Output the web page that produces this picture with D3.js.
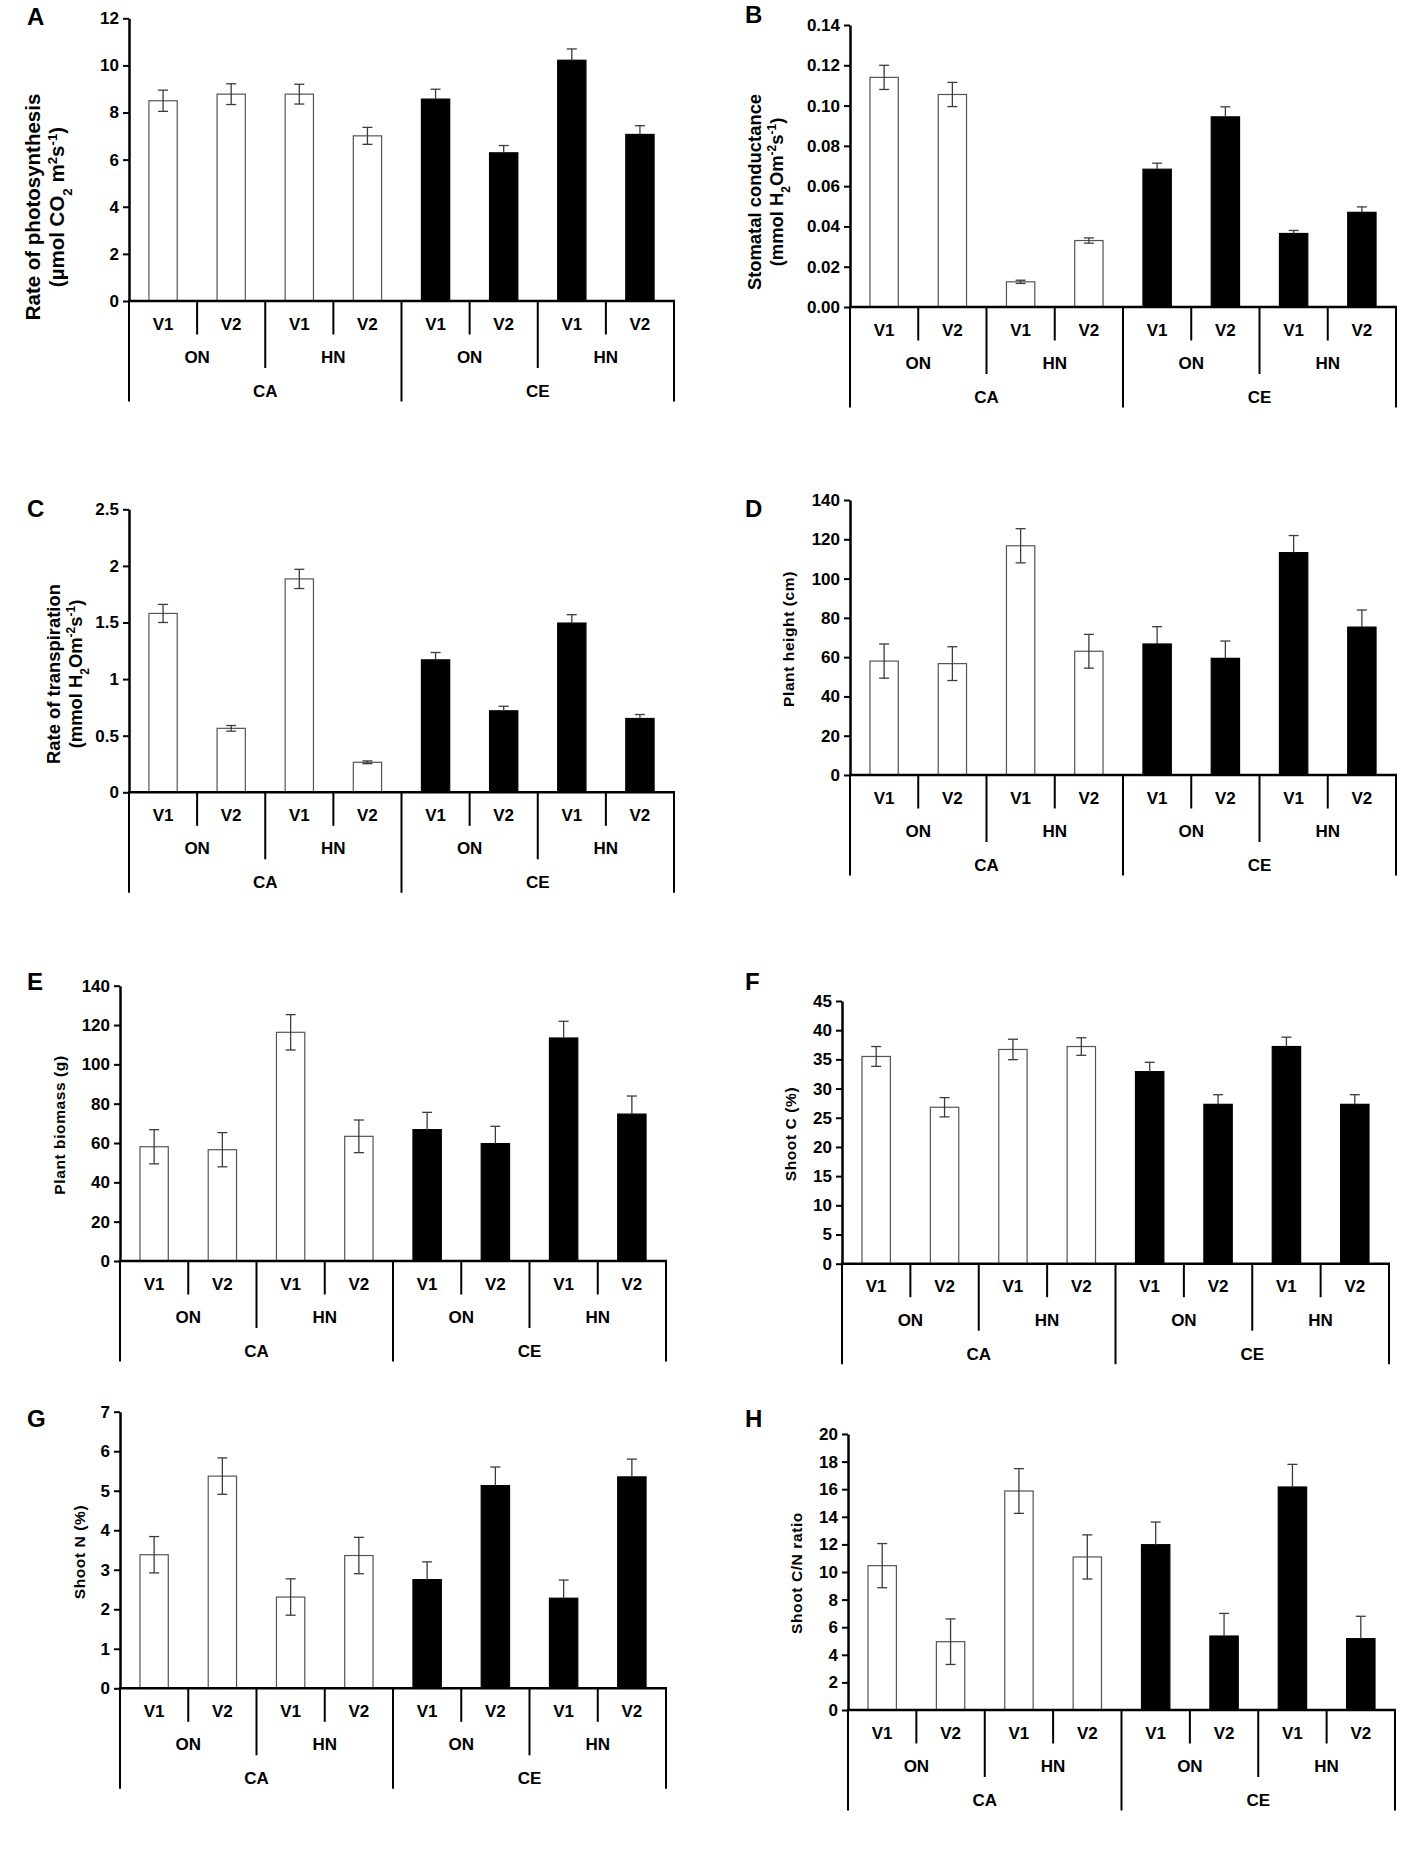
<!DOCTYPE html>
<html><head><meta charset="utf-8">
<script src="https://cdn.jsdelivr.net/npm/d3@7"></script>
<style>
body{margin:0;background:#fff}
text{font-family:"Liberation Sans",Arial,Helvetica,sans-serif;font-weight:bold;fill:#000}
</style>
</head><body><svg id="chart" width="1418" height="1850"></svg>
<script>
// ---------- categories ----------
const varieties = ["V1","V2","V1","V2","V1","V2","V1","V2"];
const nitrogenLevels = ["ON","HN","ON","HN"];
const co2Levels = ["CA","CE"];
const barCo2Index = [0,0,0,0,1,1,1,1];

// ---------- series values (mean, SE) ----------
const photosynthesis   = [8.50, 8.78, 8.78, 7.01, 8.57, 6.29, 10.22, 7.07];
const photosynthesisSE = [0.45, 0.44, 0.42, 0.36, 0.42, 0.31, 0.48, 0.37];
const conductance   = [0.114, 0.1055, 0.0125, 0.033, 0.0684, 0.0944, 0.0365, 0.047];
const conductanceSE = [0.006, 0.006, 0.0008, 0.0013, 0.003, 0.005, 0.0015, 0.0027];
const transpiration   = [1.58, 0.565, 1.885, 0.265, 1.17, 0.72, 1.495, 0.652];
const transpirationSE = [0.08, 0.025, 0.085, 0.012, 0.065, 0.04, 0.074, 0.035];
const plantHeight   = [58.0, 56.7, 116.7, 63.0, 66.7, 59.4, 113.2, 75.3];
const plantHeightSE = [8.7, 8.6, 8.7, 8.6, 8.8, 8.8, 8.7, 8.7];
const plantBiomass   = [58.1, 56.6, 116.3, 63.4, 66.8, 59.7, 113.4, 74.7];
const plantBiomassSE = [8.7, 8.7, 9.0, 8.3, 8.8, 8.8, 8.5, 9.2];
const shootC   = [35.5, 26.8, 36.7, 37.2, 32.9, 27.3, 37.2, 27.3];
const shootCSE = [1.7, 1.65, 1.75, 1.5, 1.6, 1.65, 1.6, 1.65];
const shootN   = [3.38, 5.37, 2.31, 3.36, 2.75, 5.13, 2.28, 5.35];
const shootNSE = [0.46, 0.46, 0.46, 0.46, 0.45, 0.47, 0.46, 0.45];
const shootCN   = [10.46, 4.95, 15.87, 11.09, 11.98, 5.36, 16.16, 5.17];
const shootCNSE = [1.6, 1.65, 1.62, 1.6, 1.64, 1.64, 1.64, 1.62];

// ---------- tick labels ----------
const ticksA = [0,2,4,6,8,10,12];
const ticksB = [0,0.02,0.04,0.06,0.08,0.10,0.12,0.14];
const ticksC = [0,0.5,1,1.5,2,2.5];
const ticksD = [0,20,40,60,80,100,120,140];
const ticksE = [0,20,40,60,80,100,120,140];
const ticksF = [0,5,10,15,20,25,30,35,40,45];
const ticksG = [0,1,2,3,4,5,6,7];
const ticksH = [0,2,4,6,8,10,12,14,16,18,20];

// ---------- panel definitions (data refs + layout) ----------
const panels = [
  {letter:"A", values:photosynthesis, se:photosynthesisSE, ticks:ticksA, fmt:d3.format("d"),
   title:[[["Rate of photosynthesis"]],[["(µmol CO"],["2","sub"],[" m"],["2","sup"],["s"],["-1","sup"],[")"]]], titleSize:20.5, ls:0, titleX:[33,57], titleY:207,
   x0:129, x1:674, yTop:18.3, y0:301, lx:27, ly:25},
  {letter:"B", values:conductance, se:conductanceSE, ticks:ticksB, fmt:d3.format(".2f"),
   title:[[["Stomatal conductance"]],[["(mmol H"],["2","sub"],["Om"],["-2","sup"],["s"],["-1","sup"],[")"]]], titleSize:18.4, ls:0, titleX:[755,777], titleY:192,
   x0:850, x1:1396, yTop:25, y0:307, lx:745, ly:23},
  {letter:"C", values:transpiration, se:transpirationSE, ticks:ticksC, fmt:d3.format("~g"),
   title:[[["Rate of transpiration"]],[["(mmol H"],["2","sub"],["Om"],["-2","sup"],["s"],["-1","sup"],[")"]]], titleSize:18.4, ls:0, titleX:[54,76], titleY:674,
   x0:129, x1:674, yTop:509.3, y0:792.3, lx:27, ly:517},
  {letter:"D", values:plantHeight, se:plantHeightSE, ticks:ticksD, fmt:d3.format("d"),
   title:[[["Plant height (cm)"]]], titleSize:15.5, ls:0.6, titleX:[789], titleY:639,
   x0:850, x1:1396, yTop:500, y0:775, lx:745, ly:517},
  {letter:"E", values:plantBiomass, se:plantBiomassSE, ticks:ticksE, fmt:d3.format("d"),
   title:[[["Plant biomass (g)"]]], titleSize:15.5, ls:0.6, titleX:[60], titleY:1125,
   x0:120, x1:666, yTop:985.7, y0:1261, lx:27, ly:990},
  {letter:"F", values:shootC, se:shootCSE, ticks:ticksF, fmt:d3.format("d"),
   title:[[["Shoot C (%)"]]], titleSize:15.5, ls:0.6, titleX:[791], titleY:1134,
   x0:842, x1:1389, yTop:1001, y0:1263.7, lx:745, ly:990},
  {letter:"G", values:shootN, se:shootNSE, ticks:ticksG, fmt:d3.format("d"),
   title:[[["Shoot N (%)"]]], titleSize:15.5, ls:0.6, titleX:[80], titleY:1552,
   x0:120, x1:666, yTop:1411.7, y0:1688.3, lx:27, ly:1427},
  {letter:"H", values:shootCN, se:shootCNSE, ticks:ticksH, fmt:d3.format("d"),
   title:[[["Shoot C/N ratio"]]], titleSize:15.5, ls:0.6, titleX:[797], titleY:1573,
   x0:848, x1:1395, yTop:1434, y0:1710, lx:745, ly:1427}
];

const svg = d3.select("#chart");
svg.append("rect").attr("width",1418).attr("height",1850).attr("fill","#fff");
const ROW = 33.5;
const barColor = ["#ffffff","#000000"];

panels.forEach(p => {
  const g = svg.append("g");
  const idx = d3.range(8);
  const x = d3.scaleBand().domain(idx).range([p.x0, p.x1]).paddingInner(0.585).paddingOuter(0.2925);
  const y = d3.scaleLinear().domain([0, d3.max(p.ticks)]).range([p.y0, p.yTop]);
  const bound = d3.scaleLinear().domain([0, 8]).range([p.x0, p.x1]);

  // bars
  g.selectAll("rect.bar").data(idx).join("rect")
    .attr("x", i => x(i)).attr("width", x.bandwidth())
    .attr("y", i => y(p.values[i])).attr("height", i => y(0) - y(p.values[i]))
    .attr("fill", i => barColor[barCo2Index[i]])
    .attr("stroke", i => barCo2Index[i] ? "#000" : "#555")
    .attr("stroke-width", 1.2);

  // error bars (lower whisker hidden inside black bars)
  const eb = g.selectAll("g.eb").data(idx).join("g").attr("stroke", "#3c3c3c").attr("stroke-width", 1.3);
  const cx = i => x(i) + x.bandwidth()/2;
  eb.append("line").attr("x1", cx).attr("x2", cx)
    .attr("y1", i => y(p.values[i] + p.se[i]))
    .attr("y2", i => barCo2Index[i] ? y(p.values[i]) : y(p.values[i] - p.se[i]));
  eb.append("line").attr("x1", i => cx(i) - 5).attr("x2", i => cx(i) + 5)
    .attr("y1", i => y(p.values[i] + p.se[i])).attr("y2", i => y(p.values[i] + p.se[i]));
  eb.filter(i => !barCo2Index[i]).append("line").attr("x1", i => cx(i) - 5).attr("x2", i => cx(i) + 5)
    .attr("y1", i => y(p.values[i] - p.se[i])).attr("y2", i => y(p.values[i] - p.se[i]));

  // y axis
  const ax = g.append("g").attr("transform", `translate(${p.x0},0)`)
    .call(d3.axisLeft(y).tickValues(p.ticks).tickFormat(p.fmt).tickSize(6).tickSizeOuter(0).tickPadding(4));
  ax.select(".domain").attr("stroke", "#000").attr("stroke-width", 2.5);
  ax.selectAll(".tick line").attr("stroke", "#000").attr("stroke-width", 2);
  ax.selectAll(".tick text").attr("font-size", 17).attr("fill", "#000")
    .style("font-family", '"Liberation Sans",Arial,sans-serif').style("font-weight", "bold");

  // category axis
  g.append("line").attr("x1", p.x0 - 1).attr("x2", p.x1 + 1).attr("y1", y(0)).attr("y2", y(0))
    .attr("stroke", "#000").attr("stroke-width", 2.5);
  const sep = g.append("g").attr("stroke", "#000").attr("stroke-width", 2);
  d3.range(0, 9).forEach(k => {
    let depth = 1;
    if (k % 2 === 0) depth = 2;
    if (k % 4 === 0) depth = 3;
    sep.append("line").attr("x1", bound(k)).attr("x2", bound(k))
      .attr("y1", y(0)).attr("y2", y(0) + depth * ROW);
  });
  g.selectAll("text.v").data(varieties).join("text")
    .attr("x", (d, i) => bound(i + 0.5)).attr("y", y(0) + 28.5)
    .attr("text-anchor", "middle").attr("font-size", 17).text(d => d);
  g.selectAll("text.n").data(nitrogenLevels).join("text")
    .attr("x", (d, i) => bound(2 * i + 1)).attr("y", y(0) + 62)
    .attr("text-anchor", "middle").attr("font-size", 17).text(d => d);
  g.selectAll("text.c").data(co2Levels).join("text")
    .attr("x", (d, i) => bound(4 * i + 2)).attr("y", y(0) + 96)
    .attr("text-anchor", "middle").attr("font-size", 17).text(d => d);

  // axis title
  p.title.forEach((line, li) => {
    const t = g.append("text")
      .attr("transform", `translate(${p.titleX[li]},${p.titleY}) rotate(-90)`)
      .attr("text-anchor", "middle").attr("dy", "0.35em")
      .attr("letter-spacing", p.ls)
      .attr("font-size", p.titleSize);
    line.forEach(seg => {
      const ts = t.append("tspan").text(seg[0]);
      if (seg[1] === "sub") ts.attr("baseline-shift", "sub").attr("font-size", p.titleSize * 0.65);
      if (seg[1] === "sup") ts.attr("baseline-shift", "super").attr("font-size", p.titleSize * 0.65);
    });
  });

  // panel letter
  g.append("text").attr("x", p.lx).attr("y", p.ly).attr("font-size", 24).text(p.letter);
});
</script>
</body></html>
